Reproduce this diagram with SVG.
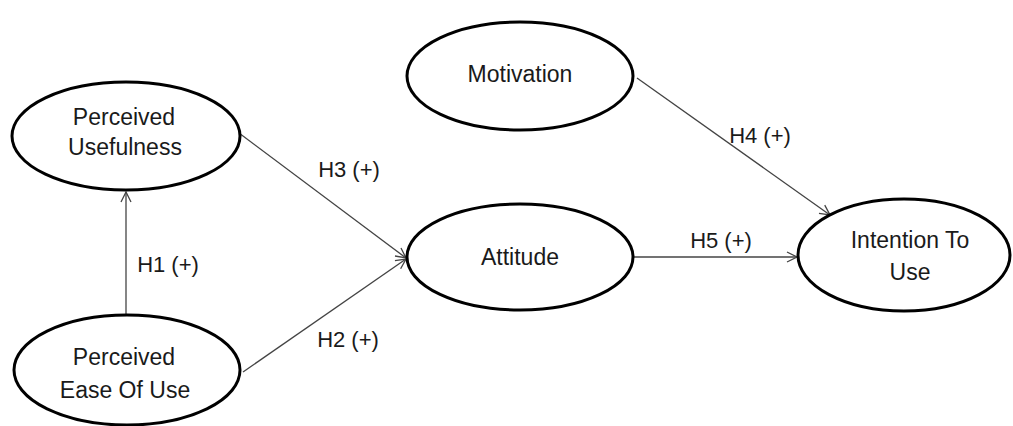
<svg xmlns="http://www.w3.org/2000/svg" width="1013" height="426" viewBox="0 0 1013 426">
<style>
.node ellipse{fill:#fff;stroke:#000;stroke-width:3}
text{font-family:"Liberation Sans",Arial,sans-serif;font-size:22px;fill:#1a1a1a;text-anchor:middle}
.node text{font-size:23px}
.conn line{stroke:#444;stroke-width:1.3;marker-end:url(#arr)}
</style>
<defs>
<marker id="arr" viewBox="0 0 12 12" refX="11" refY="6" markerWidth="12" markerHeight="12" markerUnits="userSpaceOnUse" orient="auto">
<path d="M1,1 L11,6 L1,11" fill="none" stroke="#444" stroke-width="1.3"/>
</marker>
</defs>
<rect width="1013" height="426" fill="#fff"/>
<g id="connectors" class="conn">
<line x1="126" y1="315" x2="126" y2="192"/>
<line x1="239" y1="133" x2="406" y2="258"/>
<line x1="243" y1="372" x2="406" y2="259"/>
<line x1="634" y1="257" x2="797" y2="257"/>
<line x1="637" y1="78" x2="830" y2="215"/>
</g>
<g id="perceived-usefulness" class="node">
<ellipse cx="126" cy="136" rx="114" ry="54"/>
<text x="124" y="125">Perceived</text>
<text x="125" y="155">Usefulness</text>
</g>
<g id="perceived-ease-of-use" class="node">
<ellipse cx="127" cy="370" rx="113" ry="55"/>
<text x="124" y="365">Perceived</text>
<text x="125" y="398">Ease Of Use</text>
</g>
<g id="attitude" class="node">
<ellipse cx="520" cy="257" rx="113" ry="53"/>
<text x="520" y="265">Attitude</text>
</g>
<g id="motivation" class="node">
<ellipse cx="520" cy="76" rx="113" ry="54"/>
<text x="520" y="82">Motivation</text>
</g>
<g id="intention-to-use" class="node">
<ellipse cx="904" cy="255" rx="106" ry="56"/>
<text x="910" y="248">Intention To</text>
<text x="910" y="280">Use</text>
</g>
<g id="labels">
<text x="349" y="177">H3 (+)</text>
<text x="168" y="272">H1 (+)</text>
<text x="348" y="347">H2 (+)</text>
<text x="760" y="143">H4 (+)</text>
<text x="721" y="248">H5 (+)</text>
</g>
</svg>
